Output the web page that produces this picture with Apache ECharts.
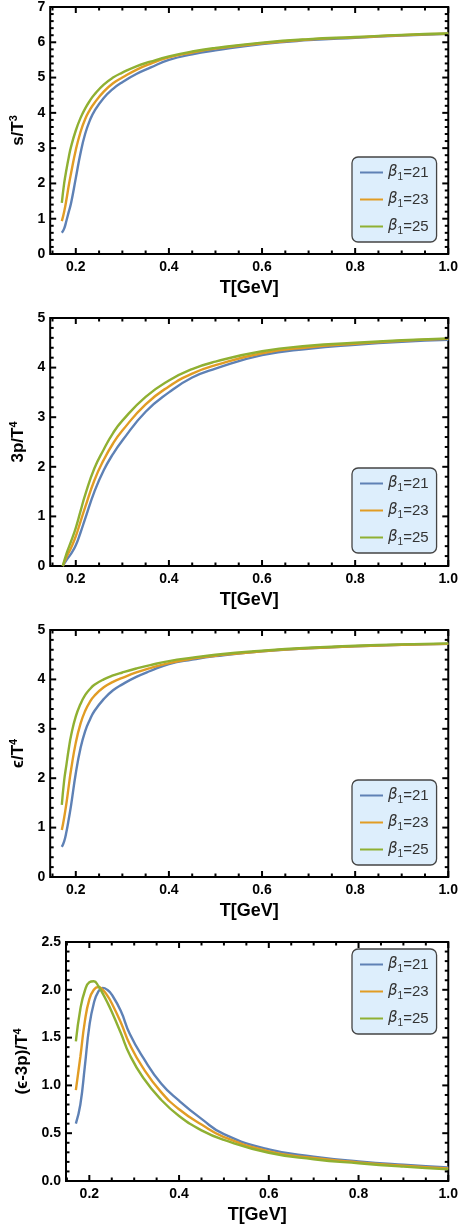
<!DOCTYPE html>
<html><head><meta charset="utf-8">
<script src="https://cdn.jsdelivr.net/npm/echarts@6/dist/echarts.min.js"></script>
<style>html,body{margin:0;padding:0;background:#fff}#c{width:461px;height:1231px}</style>
</head><body><div id="c"></div>
<script>
// ---- data ----
const seriesNames = ['β1=21', 'β1=23', 'β1=25'];
const colors = ['#5E81B5', '#E19C24', '#8FB032'];

const T_s = [0.17,0.175,0.18,0.185,0.19,0.20,0.21,0.22,0.23,0.24,0.26,0.28,0.30,0.33,0.36,0.40,0.45,0.50,0.60,0.70,0.80,0.90,1.00];
const s_21 = [0.60,0.72,0.95,1.20,1.45,2.15,2.85,3.40,3.78,4.05,4.42,4.68,4.87,5.10,5.28,5.50,5.66,5.77,5.95,6.06,6.13,6.19,6.24];
const s_23 = [0.93,1.20,1.55,1.95,2.30,2.95,3.45,3.82,4.08,4.28,4.60,4.84,5.00,5.22,5.39,5.57,5.71,5.82,5.97,6.08,6.14,6.20,6.24];
const s_25 = [1.45,2.00,2.40,2.75,3.05,3.50,3.85,4.12,4.34,4.52,4.80,5.00,5.14,5.32,5.45,5.60,5.74,5.84,5.99,6.09,6.15,6.21,6.25];

const T_p = [0.172,0.18,0.19,0.20,0.21,0.22,0.24,0.26,0.28,0.30,0.35,0.40,0.45,0.50,0.60,0.70,0.80,0.90,1.00];
const p_21 = [0,0.12,0.25,0.42,0.67,0.95,1.50,1.93,2.26,2.53,3.11,3.50,3.80,3.98,4.25,4.38,4.46,4.52,4.56];
const p_23 = [0,0.18,0.37,0.60,0.89,1.18,1.73,2.14,2.47,2.73,3.26,3.62,3.88,4.05,4.29,4.41,4.48,4.54,4.58];
const p_25 = [0,0.25,0.50,0.77,1.10,1.43,1.97,2.35,2.68,2.93,3.41,3.74,3.97,4.12,4.33,4.44,4.50,4.55,4.59];

const T_e = [0.17,0.175,0.18,0.185,0.19,0.20,0.21,0.22,0.23,0.24,0.26,0.28,0.30,0.33,0.36,0.40,0.45,0.50,0.60,0.70,0.80,0.90,1.00];
const e_21 = [0.61,0.72,0.92,1.18,1.46,2.10,2.60,2.95,3.18,3.36,3.60,3.78,3.90,4.05,4.17,4.31,4.40,4.47,4.57,4.63,4.67,4.70,4.72];
const e_23 = [0.95,1.20,1.50,1.85,2.18,2.72,3.10,3.36,3.54,3.67,3.84,3.95,4.03,4.14,4.23,4.33,4.42,4.48,4.57,4.63,4.67,4.70,4.72];
const e_25 = [1.46,1.95,2.28,2.60,2.87,3.25,3.50,3.68,3.80,3.89,4.00,4.08,4.14,4.22,4.29,4.37,4.44,4.50,4.58,4.64,4.68,4.71,4.73];

const T_i = [0.17,0.18,0.19,0.20,0.21,0.22,0.23,0.24,0.25,0.27,0.29,0.32,0.36,0.40,0.45,0.50,0.60,0.70,0.80,0.90,1.00];
const i_21 = [0.60,0.80,1.20,1.62,1.86,1.98,2.02,2.00,1.95,1.78,1.54,1.29,1.02,0.84,0.65,0.49,0.33,0.255,0.205,0.17,0.143];
const i_23 = [0.95,1.30,1.67,1.90,2.00,2.03,2.00,1.94,1.86,1.66,1.43,1.18,0.93,0.75,0.59,0.46,0.31,0.24,0.195,0.16,0.132];
const i_25 = [1.46,1.80,1.99,2.08,2.09,2.04,1.96,1.87,1.77,1.55,1.32,1.08,0.85,0.68,0.53,0.43,0.295,0.228,0.185,0.15,0.122];

const xTicks = [0.2, 0.4, 0.6, 0.8, 1.0];
const yTicks1 = [0,1,2,3,4,5,6,7];
const yTicks2 = [0,1,2,3,4,5];
const yTicks3 = [0,1,2,3,4,5];
const yTicks4 = [0,0.5,1.0,1.5,2.0,2.5];

// ---- layout ----
const panels = [
  {T:T_s, ys:[s_21,s_23,s_25], grid:{left:49,top:6,width:401,height:248}, xmin:0.145, ymax:7, yTicks:yTicks1, yMinorStep:0.2, dec:0,
   yname:'{m|s/T}{sup|3}', ynameGap:22, legendTop:157},
  {T:T_p, ys:[p_21,p_23,p_25], grid:{left:49,top:318,width:401,height:248}, xmin:0.145, ymax:5, yTicks:yTicks2, yMinorStep:0.2, dec:0,
   yname:'{m|3p/T}{sup|4}', ynameGap:22, legendTop:468},
  {T:T_e, ys:[e_21,e_23,e_25], grid:{left:49,top:630,width:401,height:247}, xmin:0.145, ymax:5, yTicks:yTicks3, yMinorStep:0.2, dec:0,
   yname:'{m|ϵ/T}{sup|4}', ynameGap:22, legendTop:780},
  {T:T_i, ys:[i_21,i_23,i_25], grid:{left:66,top:942,width:386,height:239}, xmin:0.148, ymax:2.5, yTicks:yTicks4, yMinorStep:0.1, dec:1,
   yname:'{m|(ϵ-3p)/T}{sup|4}', ynameGap:30, legendTop:949}
];

function minorList(lo, hi, step, majors){
  const out=[];
  for(let k=Math.ceil(lo/step-1e-9); k*step<=hi+1e-9; k++){
    const v=+(k*step).toFixed(4);
    if(!majors.some(m=>Math.abs(m-v)<1e-6)) out.push(v);
  }
  return out;
}

const grids=[], xAxes=[], yAxes=[], series=[], legends=[];
const nameRich = {
  m:{fontFamily:'Liberation Sans, Arial, sans-serif', fontWeight:'bold', fontSize:17, color:'#000'},
  sup:{fontFamily:'Liberation Sans, Arial, sans-serif', fontWeight:'bold', fontSize:11, color:'#000', verticalAlign:'top', padding:[0,0,9,0]}
};
const legRich = {
  b:{fontFamily:'DejaVu Sans, sans-serif', fontStyle:'italic', fontSize:15, color:'#333'},
  s:{fontFamily:'Liberation Sans, Arial, sans-serif', fontSize:10, color:'#333', padding:[9,0,0,0]},
  n:{fontFamily:'Liberation Sans, Arial, sans-serif', fontSize:15, color:'#333'}
};
const lblFont = {fontFamily:'Liberation Sans, Arial, sans-serif', fontWeight:'bold', fontSize:14, color:'#000'};

panels.forEach((p, gi) => {
  grids.push(Object.assign({show:true, borderColor:'#000', borderWidth:2}, p.grid));
  const xMinor = minorList(p.xmin, 1.0, 0.05, xTicks);
  const yMinor = minorList(0, p.ymax, p.yMinorStep, p.yTicks);
  xAxes.push({gridIndex:gi, type:'value', position:'bottom', min:p.xmin, max:1.0,
    splitLine:{show:false}, axisLine:{show:false, onZero:false}, axisTick:{show:false},
    name:'T[GeV]', nameLocation:'middle', nameGap:25,
    nameTextStyle:{fontFamily:'Liberation Sans, Arial, sans-serif', fontWeight:'bold', fontSize:18, color:'#000'},
    axisLabel:Object.assign({customValues:xTicks, margin:6, formatter:v=>v.toFixed(1)}, lblFont)});
  yAxes.push({gridIndex:gi, type:'value', position:'left', min:0, max:p.ymax,
    splitLine:{show:false}, axisLine:{show:false, onZero:false}, axisTick:{show:false},
    name:p.yname, nameLocation:'middle', nameGap:p.ynameGap, nameRotate:90,
    nameTextStyle:{rich:nameRich},
    axisLabel:Object.assign({customValues:p.yTicks, margin:5, formatter:v=>v.toFixed(p.dec)}, lblFont)});

  p.ys.forEach((arr, k) => {
    series.push({type:'line', name:seriesNames[k], xAxisIndex:gi, yAxisIndex:gi,
      data:p.T.map((t,j)=>[t, arr[j]]), showSymbol:false, symbol:'none', smooth:0.5,
      lineStyle:{color:colors[k], width:2.4}, itemStyle:{color:colors[k]}});
  });

  // frame ticks (inward, all four sides), positioned through the axes' own scales
  const tickItems = [];
  xTicks.forEach(v => { tickItems.push([v,0,6]); tickItems.push([v,1,6]); });
  xMinor.forEach(v => { tickItems.push([v,0,3.5]); tickItems.push([v,1,3.5]); });
  p.yTicks.forEach(v => { tickItems.push([v,2,6]); tickItems.push([v,3,6]); });
  yMinor.forEach(v => { tickItems.push([v,2,3.5]); tickItems.push([v,3,3.5]); });
  series.push({type:'custom', xAxisIndex:gi, yAxisIndex:gi, silent:true, clip:false, z:5,
    data:tickItems,
    renderItem:(params, api) => {
      const v = api.value(0), side = api.value(1), len = api.value(2);
      let a, b;
      if (side === 0) { a = api.coord([v, 0]); b = [a[0], a[1]-len]; }
      else if (side === 1) { a = api.coord([v, p.ymax]); b = [a[0], a[1]+len]; }
      else if (side === 2) { a = api.coord([p.xmin, v]); b = [a[0]+len, a[1]]; }
      else { a = api.coord([1.0, v]); b = [a[0]-len, a[1]]; }
      return {type:'line', shape:{x1:a[0], y1:a[1], x2:b[0], y2:b[1]}, style:{stroke:'#000', lineWidth:2}};
    }});

  legends.push({orient:'vertical', left:352, top:p.legendTop, width:91,
    data:seriesNames, icon:'rect', itemWidth:23, itemHeight:2, itemGap:10,
    backgroundColor:'#DDEEFC', borderColor:'#444', borderWidth:1.3, borderRadius:6,
    padding:[8,8,6,8], selectedMode:false,
    formatter:n=>'{b|β}{s|1}{n|' + n.slice(2) + '}',
    textStyle:{rich:legRich, fontSize:15}});
});

const chart = echarts.init(document.getElementById('c'), null, {renderer:'canvas'});
chart.setOption({animation:false, color:colors, grid:grids, xAxis:xAxes, yAxis:yAxes, series:series, legend:legends});
</script>
</body></html>
